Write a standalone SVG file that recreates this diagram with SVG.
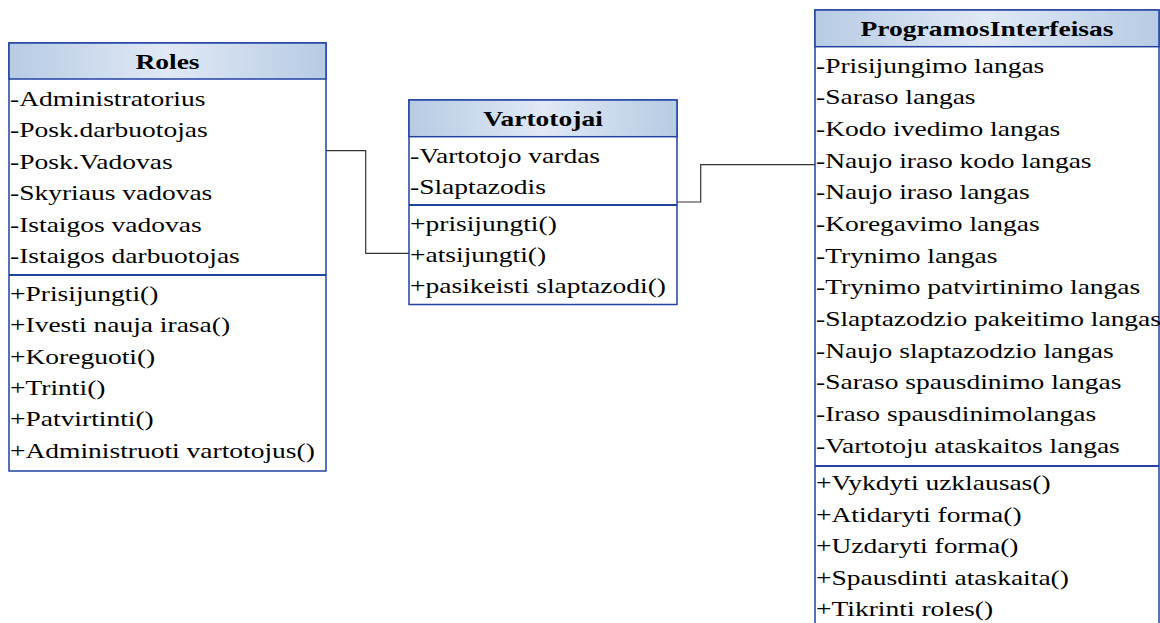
<svg xmlns="http://www.w3.org/2000/svg" width="1160" height="623" viewBox="0 0 1160 623">
<style>
.box{fill:#ffffff;stroke:#2242a2;stroke-width:1.5}
.hdr{fill:url(#hg);stroke:#2242a2;stroke-width:1.5}
.div{stroke:#2242a2;stroke-width:1.8}
.t{font-family:"Liberation Serif","Times New Roman",serif;font-size:22px;fill:#000}
.ttl{font-family:"Liberation Serif","Times New Roman",serif;font-size:22px;font-weight:bold;fill:#000;text-anchor:middle}
.con{fill:none;stroke:#333333;stroke-width:1.2}
</style>
<defs>
<linearGradient id="hg" x1="0" y1="0" x2="1" y2="0">
<stop offset="0" stop-color="#b7cbe4"/>
<stop offset="0.5" stop-color="#e0e9f5"/>
<stop offset="1" stop-color="#b7cbe4"/>
</linearGradient>
</defs>
<rect width="1160" height="623" fill="#ffffff"/>
<g id="connectors">
<polyline class="con" points="326,150.7 365.7,150.7 365.7,253.3 409,253.3"/>
<polyline class="con" points="677,202 700.7,202 700.7,164.7 815,164.7"/>
</g>
<g id="roles">
<rect class="box" x="9" y="43" width="317" height="428"/>
<rect class="hdr" x="9" y="43" width="317" height="36"/>
<line class="div" x1="9" y1="275" x2="326" y2="275"/>
<text class="ttl" transform="translate(167.5,69) scale(1.25,1)">Roles</text>
<text class="t" transform="translate(10,106) scale(1.25,1)">-Administratorius</text>
<text class="t" transform="translate(10,137.4) scale(1.25,1)">-Posk.darbuotojas</text>
<text class="t" transform="translate(10,168.8) scale(1.25,1)">-Posk.Vadovas</text>
<text class="t" transform="translate(10,200.2) scale(1.25,1)">-Skyriaus vadovas</text>
<text class="t" transform="translate(10,231.6) scale(1.25,1)">-Istaigos vadovas</text>
<text class="t" transform="translate(10,263) scale(1.25,1)">-Istaigos darbuotojas</text>
<text class="t" transform="translate(10,301) scale(1.25,1)">+Prisijungti()</text>
<text class="t" transform="translate(10,332.3) scale(1.25,1)">+Ivesti nauja irasa()</text>
<text class="t" transform="translate(10,363.6) scale(1.25,1)">+Koreguoti()</text>
<text class="t" transform="translate(10,394.9) scale(1.25,1)">+Trinti()</text>
<text class="t" transform="translate(10,426.2) scale(1.25,1)">+Patvirtinti()</text>
<text class="t" transform="translate(10,457.5) scale(1.25,1)">+Administruoti vartotojus()</text>
</g>
<g id="vartotojai">
<rect class="box" x="409" y="100" width="268" height="204.5"/>
<rect class="hdr" x="409" y="100" width="268" height="36.7"/>
<line class="div" x1="409" y1="205" x2="677" y2="205"/>
<text class="ttl" transform="translate(543,126) scale(1.25,1)">Vartotojai</text>
<text class="t" transform="translate(410,162.7) scale(1.25,1)">-Vartotojo vardas</text>
<text class="t" transform="translate(410,194) scale(1.25,1)">-Slaptazodis</text>
<text class="t" transform="translate(410,230.5) scale(1.25,1)">+prisijungti()</text>
<text class="t" transform="translate(410,261.8) scale(1.25,1)">+atsijungti()</text>
<text class="t" transform="translate(410,293.1) scale(1.25,1)">+pasikeisti slaptazodi()</text>
</g>
<g id="programosinterfeisas">
<rect class="box" x="815" y="10" width="344" height="640"/>
<rect class="hdr" x="815" y="10" width="344" height="36.7"/>
<line class="div" x1="815" y1="466" x2="1159" y2="466"/>
<text class="ttl" transform="translate(987,35.5) scale(1.25,1)">ProgramosInterfeisas</text>
<text class="t" transform="translate(816,72.7) scale(1.25,1)">-Prisijungimo langas</text>
<text class="t" transform="translate(816,104.4) scale(1.25,1)">-Saraso langas</text>
<text class="t" transform="translate(816,136) scale(1.25,1)">-Kodo ivedimo langas</text>
<text class="t" transform="translate(816,167.7) scale(1.25,1)">-Naujo iraso kodo langas</text>
<text class="t" transform="translate(816,199.4) scale(1.25,1)">-Naujo iraso langas</text>
<text class="t" transform="translate(816,231) scale(1.25,1)">-Koregavimo langas</text>
<text class="t" transform="translate(816,262.7) scale(1.25,1)">-Trynimo langas</text>
<text class="t" transform="translate(816,294.4) scale(1.25,1)">-Trynimo patvirtinimo langas</text>
<text class="t" transform="translate(816,326) scale(1.25,1)">-Slaptazodzio pakeitimo langas</text>
<text class="t" transform="translate(816,357.7) scale(1.25,1)">-Naujo slaptazodzio langas</text>
<text class="t" transform="translate(816,389.4) scale(1.25,1)">-Saraso spausdinimo langas</text>
<text class="t" transform="translate(816,421) scale(1.25,1)">-Iraso spausdinimolangas</text>
<text class="t" transform="translate(816,452.7) scale(1.25,1)">-Vartotoju ataskaitos langas</text>
<text class="t" transform="translate(816,490) scale(1.25,1)">+Vykdyti uzklausas()</text>
<text class="t" transform="translate(816,521.5) scale(1.25,1)">+Atidaryti forma()</text>
<text class="t" transform="translate(816,553) scale(1.25,1)">+Uzdaryti forma()</text>
<text class="t" transform="translate(816,584.5) scale(1.25,1)">+Spausdinti ataskaita()</text>
<text class="t" transform="translate(816,616) scale(1.25,1)">+Tikrinti roles()</text>
</g>
</svg>
